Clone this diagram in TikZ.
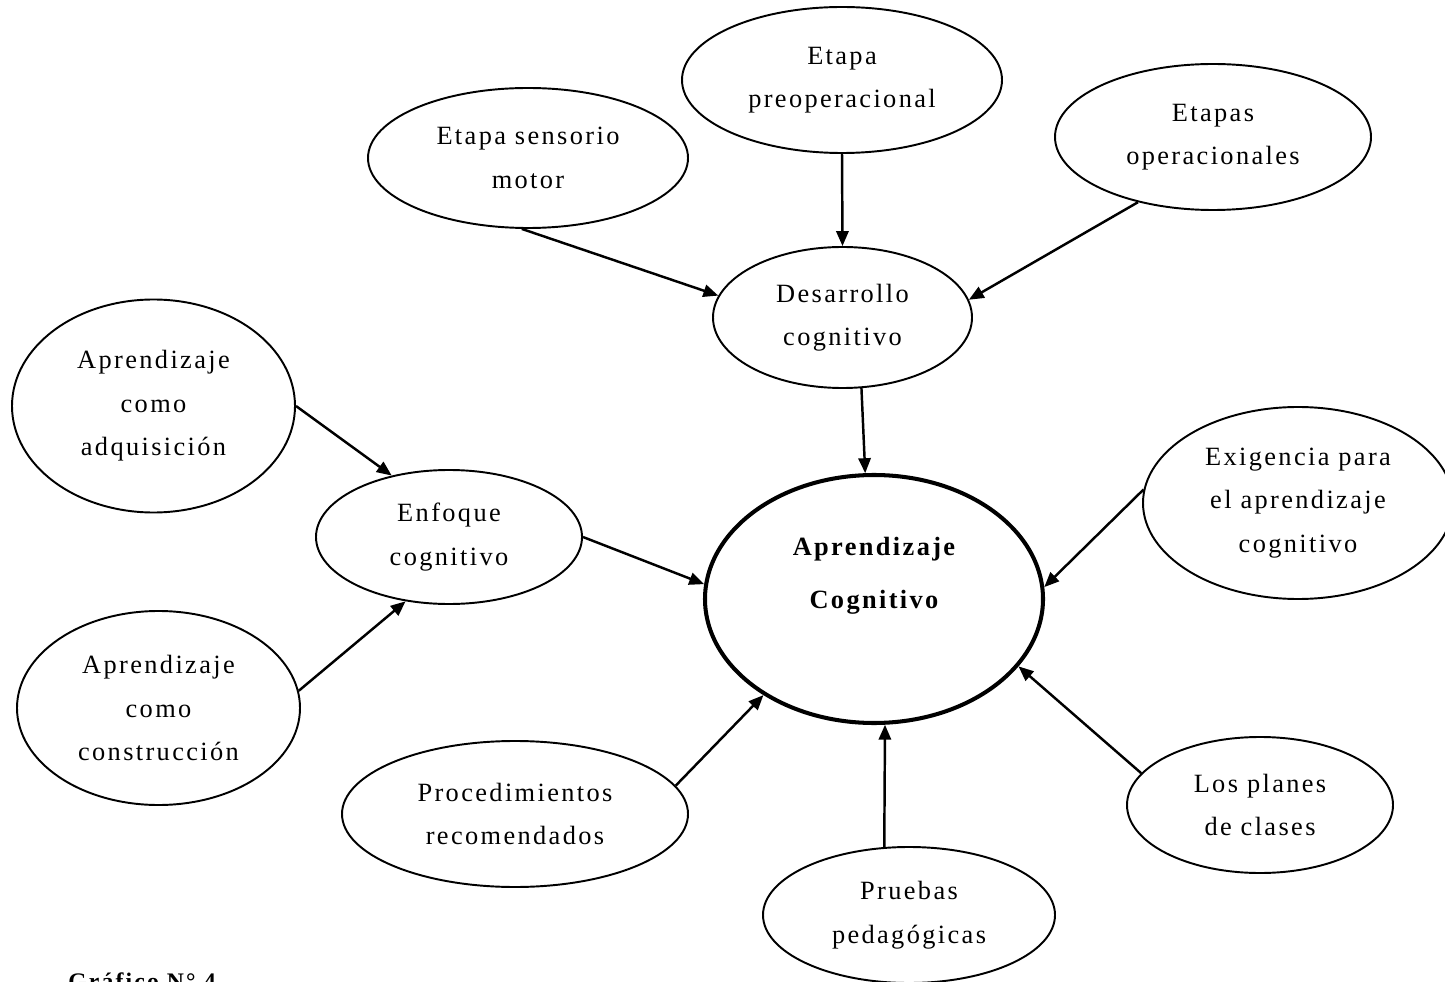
\documentclass[tikz,border=0pt]{standalone}
\usepackage{fontspec}
\setmainfont{Liberation Serif}[LetterSpace=9]
\usepackage{tikz}
\usetikzlibrary{shapes.geometric,arrows.meta}

\tikzset{
  bubble/.style={ellipse, draw, line width=1.1pt, inner sep=0pt, align=center,
    font=\fontsize{15}{24.8}\selectfont},
  core/.style={bubble, line width=2.3pt, font=\fontsize{15}{30}\selectfont\bfseries},
  arr/.style={-{Triangle[length=8.5pt,width=7pt]}, line width=1.4pt}
}

\begin{document}
\begin{tikzpicture}
    \useasboundingbox (0,0) rectangle (28.9,-19.64);

    % draw ellipses
    \node[bubble, minimum width=6.40cm, minimum height=2.80cm] (sens) at (10.56,-3.16) {Etapa sensorio\\motor};
    \node[bubble, minimum width=6.40cm, minimum height=2.92cm] (preop) at (16.84,-1.60) {Etapa\\preoperacional};
    \node[bubble, minimum width=6.32cm, minimum height=2.92cm] (oper) at (24.26,-2.74) {Etapas\\operacionales};
    \node[bubble, minimum width=5.18cm, minimum height=2.82cm] (des) at (16.85,-6.35) {Desarrollo\\cognitivo};
    \node[bubble, minimum width=5.66cm, minimum height=4.26cm] (adq) at (3.07,-8.12) {Aprendizaje\\como\\adquisición};
    \node[bubble, minimum width=5.32cm, minimum height=2.68cm] (enf) at (8.98,-10.74) {Enfoque\\cognitivo};
    \node[core, minimum width=6.76cm, minimum height=4.96cm] (apcog) at (17.48,-11.98) {Aprendizaje\\Cognitivo\\\mbox{}};
    \node[bubble, minimum width=6.20cm, minimum height=3.84cm] (exig) at (25.96,-10.06) {Exigencia para\\el aprendizaje\\cognitivo};
    \node[bubble, minimum width=5.66cm, minimum height=3.88cm] (cons) at (3.17,-14.16) {Aprendizaje\\como\\construcción};
    \node[bubble, minimum width=6.92cm, minimum height=2.92cm] (proc) at (10.30,-16.28) {Procedimientos\\recomendados};
    \node[bubble, minimum width=5.84cm, minimum height=2.72cm] (prue) at (18.18,-18.30) {Pruebas\\pedagógicas};
    \node[bubble, minimum width=5.32cm, minimum height=2.72cm] (plan) at (25.20,-16.10) {Los planes\\de clases};

    % draw arrows
    \foreach \a/\b in {sens.265/des.170, preop.south/des.north, oper.221/des.8,
                       des.285/apcog.94, adq.0/enf.133, cons.7/enf.236,
                       enf.0/apcog.175, exig.175/apcog.4, proc.10/apcog.221,
                       prue.110/apcog.275, plan.165/apcog.335}
      \draw[arr] (\a) -- (\b);

    % caption
    \node[anchor=base west, inner sep=0pt, font=\fontsize{13.5}{16}\selectfont\bfseries] (cap) at (1.36,-19.78) {Gráfico N° 4};
\end{tikzpicture}
\end{document}
